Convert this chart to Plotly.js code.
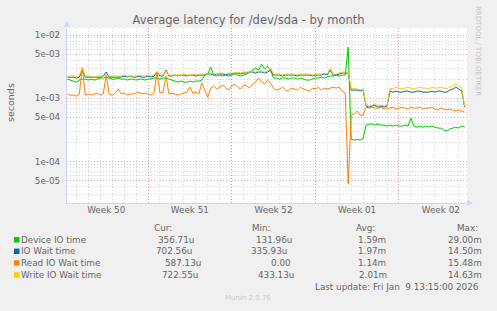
<!DOCTYPE html>
<html><head><meta charset="utf-8">
<script src="https://cdn.plot.ly/plotly-3.0.1.min.js"></script>
<style>html,body{margin:0;padding:0;background:#f0f0f0;}#chart{width:497px;height:311px;}</style>
</head><body><div id="chart"></div>
<script>
// Sampling of the series: first sample time and step (6 h)
const START = '2025-12-07T06:00:00Z';
const STEP_HOURS = 6;

const deviceIO = [
2.01e-3,1.94e-3,1.87e-3,1.80e-3,1.94e-3,2.01e-3,2.01e-3,1.94e-3,2.01e-3,1.94e-3,
2.01e-3,2.09e-3,2.09e-3,2.16e-3,2.09e-3,2.01e-3,2.01e-3,2.09e-3,2.01e-3,2.01e-3,
1.94e-3,2.01e-3,2.01e-3,1.94e-3,2.01e-3,2.01e-3,1.94e-3,2.01e-3,2.01e-3,2.09e-3,
2.09e-3,2.01e-3,2.09e-3,2.09e-3,2.01e-3,1.94e-3,1.87e-3,1.80e-3,1.87e-3,1.80e-3,
1.80e-3,1.87e-3,1.80e-3,1.87e-3,1.87e-3,1.94e-3,2.33e-3,2.42e-3,3.12e-3,2.33e-3,
2.25e-3,2.33e-3,2.25e-3,2.33e-3,2.25e-3,2.33e-3,2.42e-3,2.33e-3,2.25e-3,2.33e-3,
2.42e-3,2.60e-3,2.79e-3,3.01e-3,2.79e-3,3.48e-3,2.90e-3,3.23e-3,2.79e-3,2.09e-3,
2.09e-3,2.01e-3,2.09e-3,2.09e-3,2.01e-3,2.09e-3,2.09e-3,2.01e-3,2.09e-3,2.01e-3,
1.94e-3,1.94e-3,2.01e-3,2.09e-3,2.09e-3,2.16e-3,2.09e-3,2.16e-3,2.25e-3,2.25e-3,
2.33e-3,2.25e-3,2.33e-3,2.33e-3,6.45e-3,2.26e-4,2.18e-4,2.26e-4,2.18e-4,2.35e-4,
3.77e-4,3.91e-4,3.91e-4,3.77e-4,3.91e-4,3.77e-4,3.77e-4,3.63e-4,3.77e-4,3.63e-4,
3.77e-4,3.63e-4,3.63e-4,3.77e-4,3.63e-4,4.86e-4,3.63e-4,3.50e-4,3.63e-4,3.50e-4,
3.63e-4,3.50e-4,3.63e-4,3.50e-4,3.38e-4,3.38e-4,3.14e-4,3.03e-4,3.26e-4,3.38e-4,
3.50e-4,3.38e-4,3.63e-4,3.50e-4];

const ioWait = [
2.16e-3,2.16e-3,2.16e-3,2.09e-3,2.16e-3,2.79e-3,2.16e-3,2.16e-3,2.16e-3,2.16e-3,
2.16e-3,2.16e-3,2.25e-3,2.60e-3,2.16e-3,2.16e-3,2.16e-3,2.16e-3,2.16e-3,2.25e-3,
2.16e-3,2.25e-3,2.16e-3,2.16e-3,2.25e-3,2.16e-3,2.16e-3,2.25e-3,2.16e-3,2.25e-3,
2.60e-3,2.25e-3,2.25e-3,2.79e-3,2.25e-3,2.25e-3,2.33e-3,2.25e-3,2.33e-3,2.33e-3,
2.25e-3,2.33e-3,2.33e-3,2.25e-3,2.33e-3,2.33e-3,2.33e-3,2.42e-3,2.42e-3,2.33e-3,
2.42e-3,2.42e-3,2.42e-3,2.33e-3,2.42e-3,2.42e-3,2.51e-3,2.51e-3,2.42e-3,2.51e-3,
2.51e-3,2.60e-3,2.60e-3,2.51e-3,2.60e-3,2.60e-3,2.51e-3,2.60e-3,2.79e-3,2.33e-3,
2.33e-3,2.33e-3,2.25e-3,2.33e-3,2.33e-3,2.33e-3,2.33e-3,2.25e-3,2.33e-3,2.33e-3,
2.33e-3,2.33e-3,2.25e-3,2.33e-3,2.33e-3,2.33e-3,2.42e-3,2.33e-3,2.79e-3,2.33e-3,
2.33e-3,2.42e-3,2.51e-3,2.51e-3,2.51e-3,1.35e-3,1.35e-3,1.35e-3,1.30e-3,1.35e-3,
7.53e-4,7.26e-4,7.53e-4,7.80e-4,7.26e-4,7.53e-4,7.26e-4,7.53e-4,1.30e-3,1.25e-3,
1.30e-3,1.25e-3,1.25e-3,1.30e-3,1.30e-3,1.25e-3,1.25e-3,1.30e-3,1.30e-3,1.25e-3,
1.25e-3,1.25e-3,1.30e-3,1.25e-3,1.30e-3,1.30e-3,1.25e-3,1.25e-3,1.35e-3,1.40e-3,
1.50e-3,1.40e-3,1.30e-3,7.26e-4];

const readIO = [
1.17e-3,1.12e-3,1.12e-3,1.08e-3,1.17e-3,3.12e-3,1.12e-3,1.17e-3,1.12e-3,1.17e-3,
1.21e-3,1.12e-3,1.17e-3,2.33e-3,1.17e-3,1.12e-3,1.21e-3,1.40e-3,1.17e-3,1.21e-3,
1.12e-3,1.17e-3,1.17e-3,1.21e-3,1.25e-3,1.17e-3,1.21e-3,1.17e-3,1.12e-3,1.21e-3,
2.60e-3,1.21e-3,1.25e-3,2.25e-3,1.17e-3,1.21e-3,1.17e-3,1.12e-3,1.17e-3,1.21e-3,
1.25e-3,1.50e-3,1.21e-3,1.25e-3,1.17e-3,1.74e-3,1.35e-3,1.04e-3,1.45e-3,1.56e-3,
1.40e-3,1.50e-3,1.62e-3,1.45e-3,1.35e-3,1.56e-3,1.68e-3,1.50e-3,1.40e-3,1.62e-3,
1.56e-3,1.45e-3,1.68e-3,1.80e-3,2.09e-3,1.80e-3,1.68e-3,1.94e-3,1.74e-3,1.45e-3,
1.35e-3,1.40e-3,1.50e-3,1.35e-3,1.30e-3,1.45e-3,1.40e-3,1.35e-3,1.50e-3,1.40e-3,
1.35e-3,1.30e-3,1.45e-3,1.40e-3,1.50e-3,1.35e-3,1.45e-3,1.40e-3,1.45e-3,1.50e-3,
1.45e-3,1.50e-3,1.30e-3,1.21e-3,4.39e-5,5.42e-4,5.62e-4,6.27e-4,5.42e-4,5.42e-4,
7.26e-4,7.00e-4,7.26e-4,7.00e-4,7.00e-4,7.26e-4,6.75e-4,7.00e-4,7.00e-4,7.26e-4,
6.75e-4,7.00e-4,7.26e-4,7.00e-4,6.75e-4,7.26e-4,7.00e-4,7.00e-4,7.26e-4,6.75e-4,
7.00e-4,7.00e-4,7.26e-4,6.75e-4,6.51e-4,7.00e-4,6.75e-4,6.51e-4,6.75e-4,6.51e-4,
6.27e-4,6.51e-4,6.27e-4,6.05e-4];

const writeIO = [
2.25e-3,2.25e-3,2.25e-3,2.16e-3,2.25e-3,3.12e-3,2.25e-3,2.25e-3,2.25e-3,2.16e-3,
2.25e-3,2.25e-3,2.25e-3,2.33e-3,2.25e-3,2.25e-3,2.25e-3,2.25e-3,2.25e-3,2.33e-3,
2.25e-3,2.25e-3,2.25e-3,2.25e-3,2.33e-3,2.25e-3,2.25e-3,2.33e-3,2.25e-3,2.33e-3,
2.69e-3,2.33e-3,2.33e-3,2.69e-3,2.33e-3,2.33e-3,2.33e-3,2.33e-3,2.33e-3,2.42e-3,
2.33e-3,2.33e-3,2.42e-3,2.33e-3,2.42e-3,2.42e-3,2.42e-3,2.42e-3,2.51e-3,2.42e-3,
2.42e-3,2.51e-3,2.51e-3,2.42e-3,2.51e-3,2.51e-3,2.51e-3,2.60e-3,2.51e-3,2.60e-3,
2.60e-3,2.60e-3,2.69e-3,2.60e-3,2.69e-3,2.69e-3,2.60e-3,2.69e-3,3.01e-3,2.42e-3,
2.42e-3,2.42e-3,2.33e-3,2.42e-3,2.42e-3,2.42e-3,2.42e-3,2.33e-3,2.42e-3,2.42e-3,
2.42e-3,2.42e-3,2.33e-3,2.42e-3,2.42e-3,2.42e-3,2.51e-3,2.42e-3,3.01e-3,2.42e-3,
2.42e-3,2.51e-3,2.60e-3,2.60e-3,2.60e-3,1.40e-3,1.45e-3,1.40e-3,1.35e-3,1.40e-3,
7.80e-4,7.53e-4,7.80e-4,8.09e-4,7.53e-4,7.80e-4,7.53e-4,7.80e-4,1.45e-3,1.40e-3,
1.50e-3,1.45e-3,1.40e-3,1.45e-3,1.50e-3,1.45e-3,1.40e-3,1.45e-3,1.50e-3,1.45e-3,
1.45e-3,1.40e-3,1.50e-3,1.45e-3,1.45e-3,1.50e-3,1.45e-3,1.40e-3,1.50e-3,1.56e-3,
1.68e-3,1.56e-3,1.45e-3,7.53e-4];

const seriesNames = ['Device IO time','IO Wait time','Read IO Wait time','Write IO Wait time'];
const seriesColors = ['#00CC00','#0066B3','#FF8000','#FFCC00'];
const curText = ['356.71u','702.56u','587.13u','722.55u'];
const minText = ['131.96u','335.93u','0.00','433.13u'];
const avgText = ['1.59m','1.97m','1.14m','2.01m'];
const maxText = ['29.00m','14.50m','15.48m','14.63m'];

const weekLabels = ['Week 50','Week 51','Week 52','Week 01','Week 02'];
const weekLabelDates = ['2025-12-10 12:00','2025-12-17 12:00','2025-12-24 12:00','2025-12-31 12:00','2026-01-07 12:00'];
const weekStarts = ['2025-12-14','2025-12-21','2025-12-28','2026-01-04'];
const xRange = ['2025-12-07 05:15','2026-01-09 16:35'];

const yTickVals = [5e-5,1e-4,5e-4,1e-3,5e-3,1e-2];
const yTickText = ['5e-05','1e-04','5e-04','1e-03','5e-03','1e-02'];
const yMinorVals = [3e-5,4e-5,6e-5,7e-5,8e-5,9e-5,2e-4,3e-4,4e-4,6e-4,7e-4,8e-4,9e-4,2e-3,3e-3,4e-3,6e-3,7e-3,8e-3,9e-3];

// ---- build
const t0 = Date.parse(START);
const times = deviceIO.map((_, i) => new Date(t0 + i * STEP_HOURS * 3600000).toISOString().slice(0,16).replace('T',' '));
const allSeries = [deviceIO, ioWait, readIO, writeIO];

// the last (top-most) series is placed on the overlaying week-label axis, which shares the same range
const traces = allSeries.map((ys, k) => ({
  type: 'scatter', mode: 'lines', x: times, y: ys, name: seriesNames[k],
  line: {color: seriesColors[k], width: 1}, hoverinfo: 'skip',
  xaxis: k === allSeries.length - 1 ? 'x2' : 'x', yaxis: 'y'
}));

const W = 497, H = 311, L = 67, R = 467, T = 28, B = 203;
const px = x => (x - L) / (R - L);
const py = y => (B - y) / (B - T);
const FONT = 'DejaVu Sans';
const TXT = '#666666';

const annotations = [];
const shapes = [];
function addText(text, x, y, opts) {
  annotations.push(Object.assign({xref:'paper', yref:'paper', x: px(x), y: py(y), text: text,
    showarrow:false, xanchor:'left', yanchor:'middle', borderpad:0,
    font:{family:FONT, size:8.8, color:TXT}}, opts || {}));
}
// legend headers
addText('Cur:', 153, 228);
addText('Min:', 251, 228);
addText('Avg:', 355, 228);
addText('Max:', 456, 228);
const rowY = [239.8, 251.3, 263, 275];
const curX = [157, 155, 164, 161];
const minX = [255, 250, 270, 256.5];
const avgX = [357, 357, 357, 357.5];
const maxX = [447, 447, 447, 446.5];
seriesNames.forEach((nm, k) => {
  shapes.push({type:'rect', xref:'paper', yref:'paper', x0: px(14), x1: px(19.5), y0: py(rowY[k] + 2.7), y1: py(rowY[k] - 2.7),
    line:{width:0}, fillcolor: seriesColors[k]});
  addText(nm, 20, rowY[k]);
  addText(curText[k], curX[k], rowY[k]);
  addText(minText[k], minX[k], rowY[k]);
  addText(avgText[k], avgX[k], rowY[k]);
  addText(maxText[k], maxX[k], rowY[k]);
});
addText('Last update: Fri Jan\u00a0 9 13:15:00 2026', 314, 287);
addText('Munin 2.0.76', 248, 298, {xanchor:'center', font:{family:FONT, size:7, color:'#cccccc'}});
addText('seconds', 10, 103, {xanchor:'center', textangle:-90, font:{family:FONT, size:9.5, color:TXT}});
addText('RRDTOOL / TOBI OETIKER', 478, 51, {xanchor:'center', textangle:90, font:{family:FONT, size:7, color:'#c4c4c4'}});
// axis arrows
annotations.push({xref:'paper', yref:'paper', x: px(67), y: py(21), ax: 0, ay: 7, text:'', showarrow:true,
  arrowhead:2, arrowsize:1, arrowwidth:1.2, arrowcolor:'#cfd6f8'});
annotations.push({xref:'paper', yref:'paper', x: px(473), y: py(203), ax: -7, ay: 0, text:'', showarrow:true,
  arrowhead:2, arrowsize:1, arrowwidth:1.2, arrowcolor:'#cfd6f8'});

const MGRID = 'rgba(224,80,80,0.5)';
const GRID = 'rgba(150,150,150,0.4)';
const DOT = '1px,2px';

const layout = {
  width: W, height: H,
  margin: {l: L, r: W - R, t: T, b: H - B, pad: 0},
  paper_bgcolor: '#f0f0f0', plot_bgcolor: '#ffffff',
  showlegend: false,
  font: {family: FONT, size: 8.8, color: TXT},
  title: {text: 'Average latency for /dev/sda - by month', x: 0.5, xanchor: 'center', xref: 'container',
    y: 1 - 20/311, yanchor: 'middle', yref: 'container', font: {family: FONT, size: 11.5, color: TXT}},
  xaxis: {type: 'date', range: xRange, tickmode: 'array', tickvals: weekStarts, showticklabels: false, ticks: '',
    showgrid: true, gridcolor: MGRID, griddash: DOT, gridwidth: 1,
    minor: {dtick: 86400000, tick0: '2025-12-07', showgrid: true, gridcolor: GRID, griddash: DOT, gridwidth: 1, ticks: ''},
    showline: true, linecolor: '#cfd6f8', linewidth: 1, zeroline: false, fixedrange: true},
  xaxis2: {type: 'date', range: xRange, overlaying: 'x', anchor: 'y', side: 'bottom', tickmode: 'array',
    tickvals: weekLabelDates, ticktext: weekLabels, showgrid: false, ticks: '', showline: false, zeroline: false,
    tickfont: {family: FONT, size: 8.8, color: TXT}, fixedrange: true},
  yaxis: {type: 'log', range: [-4.655, -1.889], tickmode: 'array', tickvals: yTickVals, ticktext: yTickText,
    showgrid: true, gridcolor: MGRID, griddash: DOT, gridwidth: 1, ticks: '',
    minor: {tickmode: 'array', tickvals: yMinorVals, showgrid: true, gridcolor: GRID, griddash: DOT, gridwidth: 1, ticks: ''},
    showline: true, linecolor: '#cfd6f8', linewidth: 1, zeroline: false, ticklabelstandoff: 4,
    tickfont: {family: FONT, size: 8.8, color: TXT}, fixedrange: true},
  annotations: annotations,
  shapes: shapes
};

Plotly.newPlot('chart', traces, layout, {staticPlot: true, displayModeBar: false});
</script>
</body></html>
